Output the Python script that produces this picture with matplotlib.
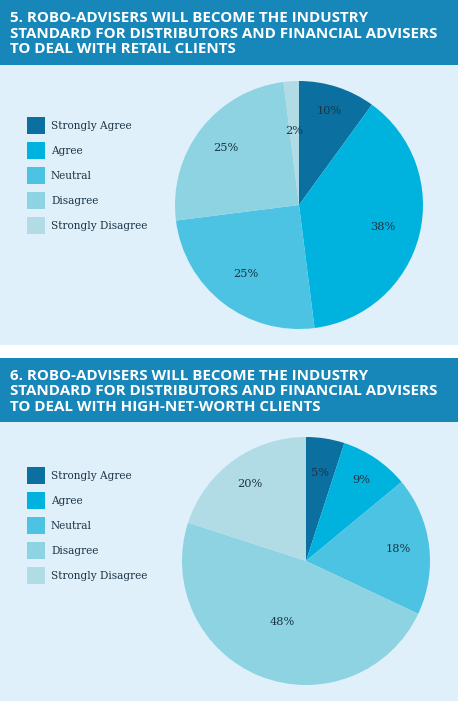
import matplotlib
matplotlib.use("Agg")
import matplotlib.pyplot as plt
from matplotlib.patches import Rectangle
import numpy as np

# ---------------- data ----------------
categories = ["Strongly Agree", "Agree", "Neutral", "Disagree", "Strongly Disagree"]
retail_values = [10, 38, 25, 25, 2]
hnw_values = [5, 9, 18, 48, 20]
title5 = ["5. ROBO-ADVISERS WILL BECOME THE INDUSTRY",
          "STANDARD FOR DISTRIBUTORS AND FINANCIAL ADVISERS",
          "TO DEAL WITH RETAIL CLIENTS"]
title6 = ["6. ROBO-ADVISERS WILL BECOME THE INDUSTRY",
          "STANDARD FOR DISTRIBUTORS AND FINANCIAL ADVISERS",
          "TO DEAL WITH HIGH-NET-WORTH CLIENTS"]

# ---------------- style ----------------
colors = ["#0b6f9f", "#00b3de", "#4cc3e3", "#8dd3e2", "#b1dbe5"]
header_col = "#1786b9"
panel_col = "#dff0fa"
label_col = "#1c3446"
W, H = 458, 701

fig = plt.figure(figsize=(W / 100, H / 100), dpi=100)
fig.patch.set_facecolor("white")


def px_rect(x0, y0, x1, y1, color, z=-5):
    # pixel coords from top-left
    fig.patches.append(Rectangle((x0 / W, 1 - y1 / H), (x1 - x0) / W, (y1 - y0) / H,
                                 transform=fig.transFigure, color=color, zorder=z, lw=0))


def header(y0, y1, lines):
    px_rect(0, y0, W, y1, header_col)
    for i, line in enumerate(lines):
        fig.text(10 / W, 1 - (y0 + 22 + i * 15.5) / H, line, color="white",
                 fontsize=10.9, fontweight="bold", family="Open Sans",
                 va="baseline", ha="left")


def panel(y0, y1, values, cx, cy, R, legend_top, pct_r):
    px_rect(0, y0, W, y1, panel_col)
    ax = fig.add_axes([(cx - R) / W, 1 - (cy + R) / H, 2 * R / W, 2 * R / H])
    ax.set_axis_off()
    wedges, texts = ax.pie(values, colors=colors, startangle=90, counterclock=False,
                           radius=1, wedgeprops=dict(linewidth=0))
    ax.set_xlim(-1, 1)
    ax.set_ylim(-1, 1)
    for w, v, r in zip(wedges, values, pct_r):
        ang = np.deg2rad((w.theta1 + w.theta2) / 2)
        ax.text(r * np.cos(ang), r * np.sin(ang), f"{v}%", ha="center", va="center",
                fontsize=8.2, color=label_col, family="DejaVu Serif")
    for i, (c, lab) in enumerate(zip(colors, categories)):
        yt = legend_top + i * 25
        px_rect(27, yt, 45, yt + 17, c, z=1)
        fig.text(51 / W, 1 - (yt + 9) / H, lab, fontsize=7.6, color=label_col,
                 family="DejaVu Serif", va="center", ha="left")


header(0, 65, title5)
panel(65, 345, retail_values, 299, 205, 124, 117, [0.8, 0.7, 0.7, 0.75, 0.6])
header(358, 422, title6)
panel(422, 701, hnw_values, 306, 561, 124, 467, [0.72, 0.79, 0.75, 0.53, 0.77])

fig.savefig("out.png", dpi=100, facecolor="white")
